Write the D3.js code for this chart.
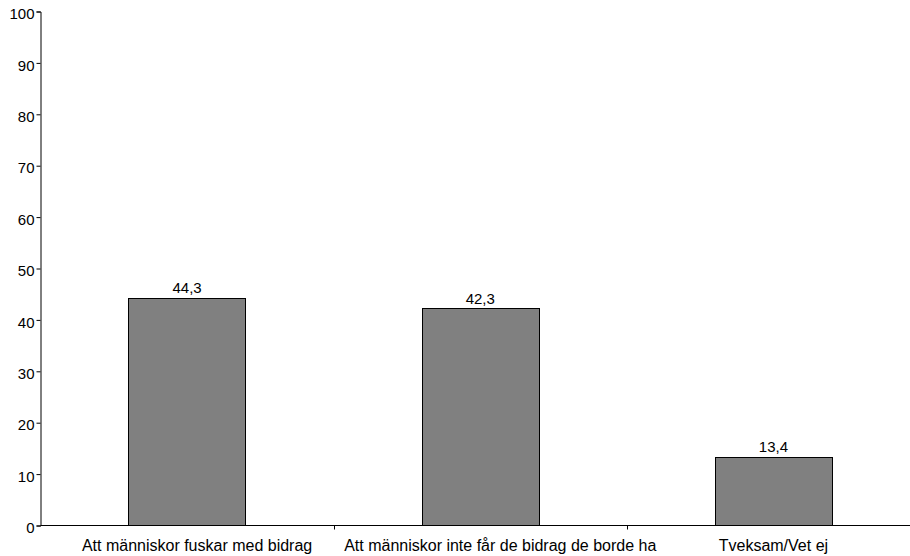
<!DOCTYPE html>
<html>
<head>
<meta charset="utf-8">
<script src="https://cdn.jsdelivr.net/npm/d3@7"></script>
<style>
  html, body { margin: 0; padding: 0; background: #fff; }
  svg { display: block; }
  text { font-family: "Liberation Sans", Arial, sans-serif; fill: #000; }
</style>
</head>
<body>
<svg id="chart" width="910" height="556"></svg>
<script>
const categories = ["Att människor fuskar med bidrag", "Att människor inte får de bidrag de borde ha", "Tveksam/Vet ej"];
const values = [44.3, 42.3, 13.4];
const valueLabels = ["44,3", "42,3", "13,4"];
const yTicks = [0, 10, 20, 30, 40, 50, 60, 70, 80, 90, 100];

const svg = d3.select("#chart");
const mLeft = 40.5, mRight = 920, mTop = 11.5, mBottom = 525.5;

const x = d3.scaleBand().domain(categories).range([mLeft, mRight]).paddingInner(0.6).paddingOuter(0.3);
const y = d3.scaleLinear().domain([0, 100]).range([mBottom, mTop]);
const step = x.step();

// bars
svg.selectAll("rect.bar").data(values).enter().append("rect")
  .attr("class", "bar")
  .attr("x", (d, i) => Math.round(x(categories[i])) + 0.5)
  .attr("y", d => Math.round(y(d)) + 0.5)
  .attr("width", Math.round(x.bandwidth()))
  .attr("height", d => y(0) - Math.round(y(d)) - 0.5)
  .attr("fill", "#808080")
  .attr("stroke", "#000")
  .attr("stroke-width", 1);

// value labels
svg.selectAll("text.val").data(values).enter().append("text")
  .attr("class", "val")
  .attr("x", (d, i) => x(categories[i]) + x.bandwidth() / 2)
  .attr("y", d => y(d) - 4.5)
  .attr("text-anchor", "middle")
  .attr("font-size", "15px")
  .text((d, i) => valueLabels[i]);

// y axis
const yAxis = d3.axisLeft(y).tickValues(yTicks).tickSize(4).tickPadding(2).tickFormat(d3.format("d"));
const yg = svg.append("g").attr("transform", `translate(${mLeft},0)`).call(yAxis);
yg.select(".domain").attr("stroke", "#000");
yg.selectAll(".tick line").attr("stroke", "#000");
yg.selectAll("text").attr("font-size", "15px").attr("dy", "0.48em")
  .attr("font-family", "Liberation Sans, Arial, sans-serif").attr("fill", "#000");

// x axis line
svg.append("line").attr("x1", mLeft).attr("x2", 910).attr("y1", mBottom).attr("y2", mBottom).attr("stroke", "#000");
// x axis ticks at category boundaries
svg.selectAll("line.xt").data(categories.slice(1)).enter().append("line")
  .attr("class", "xt")
  .attr("x1", d => Math.round(x(d) - step * 0.3) + 0.5)
  .attr("x2", d => Math.round(x(d) - step * 0.3) + 0.5)
  .attr("y1", mBottom).attr("y2", mBottom + 4)
  .attr("stroke", "#000");

// category labels (the original shifts labels containing accented letters slightly right)
const accentShift = s => (s.match(/[^\x00-\x7F]/g) || []).length * 10;
svg.selectAll("text.cat").data(categories).enter().append("text")
  .attr("class", "cat")
  .attr("x", d => x(d) + x.bandwidth() / 2 + accentShift(d))
  .attr("y", 551)
  .attr("text-anchor", "middle")
  .attr("font-size", "16px")
  .text(d => d);
</script>
</body>
</html>
